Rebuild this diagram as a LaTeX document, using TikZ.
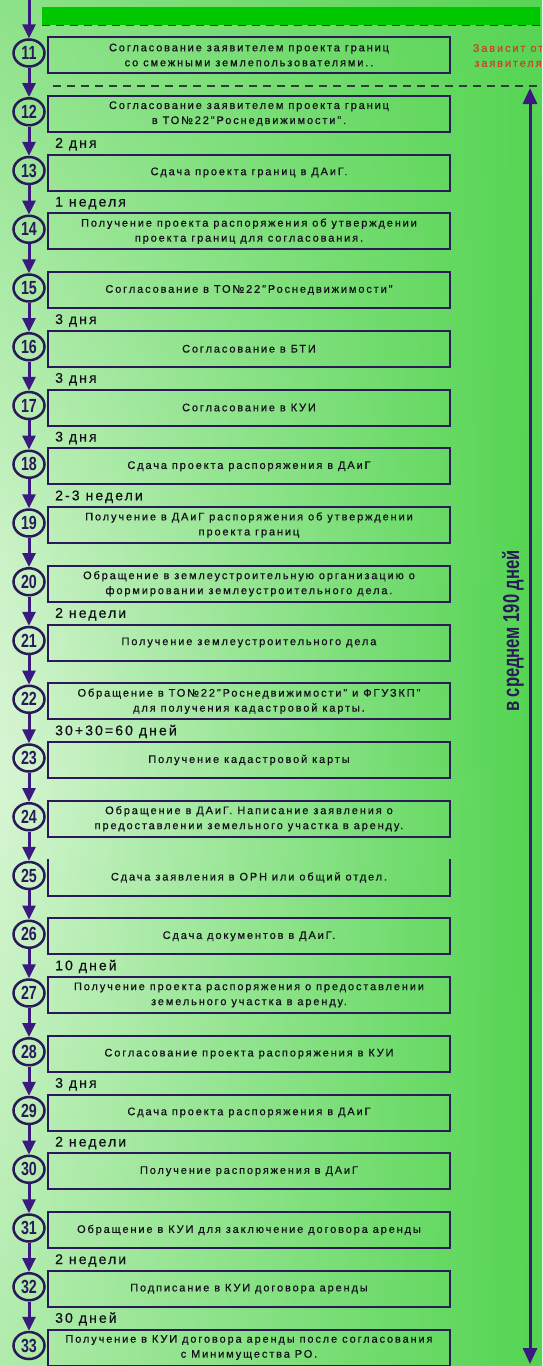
\documentclass[tikz,border=0pt]{standalone}
\usepackage{fontspec}
\setmainfont{Liberation Sans}
\newfontfamily\boxfont[LetterSpace=17,FakeBold=0.5]{Liberation Sans}
\newfontfamily\lblfont[LetterSpace=15,FakeBold=0.4]{Liberation Sans}
\usetikzlibrary{shapes.geometric,arrows.meta,fadings}
\definecolor{boxc}{HTML}{2A1A58}
\definecolor{arrc}{HTML}{3A1A7E}
\definecolor{txtc}{HTML}{101018}
\definecolor{redc}{HTML}{C8442A}
\definecolor{barc}{HTML}{00C800}
\definecolor{dashc}{HTML}{2E3E36}
\definecolor{bgL}{HTML}{E4F9E0}
\definecolor{bgM}{HTML}{ACEBA4}
\definecolor{bgR}{HTML}{50D44E}
\definecolor{bgV}{HTML}{5CD658}
\tikzfading[name=fadetop, top color=transparent!0, bottom color=transparent!100]
\tikzfading[name=fadebot, top color=transparent!100, bottom color=transparent!0]
\newcommand\cnum[1]{\scalebox{0.75}[1]{\fontsize{19}{19}\selectfont\bfseries #1}}
\newcommand\mkbox[2]{\node[stepbox] (b#1) at (249,{55+58.75*(#1-11)}) {#2};}
\newcommand\mklbl[2]{\node[lbl] (l#1) at (55,{55+58.75*(#1-11)+34}) {#2};}
\begin{document}
\begin{tikzpicture}[x=1pt,y=-1pt,
  stepbox/.style={draw=boxc,line width=2pt,minimum width=402pt,minimum height=36pt,inner sep=0pt,align=center,text=txtc,font=\boxfont\fontsize{11}{15}\selectfont},
  nobox/.style={minimum width=402pt,minimum height=36pt,inner sep=0pt,align=center,text=txtc,font=\boxfont\fontsize{11}{15}\selectfont},
  circ/.style={ellipse,draw=boxc,line width=2.5pt,minimum width=31pt,minimum height=27pt,inner sep=0pt,text=boxc},
  arr/.style={draw=arrc,line width=3pt,-{Triangle[width=13pt,length=14pt]}},
  arrtwo/.style={draw=arrc,line width=3pt,{Triangle[width=14pt,length=16pt]}-{Triangle[width=14pt,length=16pt]}},
  lbl/.style={anchor=base west,inner sep=0pt,text=txtc,font=\lblfont\fontsize{14}{14}\selectfont},
  dashl/.style={draw=dashc,line width=1.5pt,dash pattern=on 8pt off 6pt}]
\useasboundingbox (0,0) rectangle (542,1366);
\clip (0,0) rectangle (542,1366);
% background
\shade[left color=bgL, middle color=bgM, right color=bgR] (0,0) rectangle (542,1366);
\fill[bgV, fill opacity=0.85, path fading=fadetop] (0,-250) rectangle (542,770);
\fill[bgV, fill opacity=0.55, path fading=fadebot] (0,580) rectangle (542,1720);
% top bar and dashed lines
\fill[barc] (42,7) rectangle (540,25);
\draw[dashl] (42,25.5) -- (542,25.5);
\draw[dashl] (53,86) -- (542,86);
% circles
\foreach \i in {11,...,33} \node[circ] (c\i) at (29,{55+58.75*(\i-11)-2}) {\cnum{\i}};
\coordinate (top) at (29,0);
\draw[arr] (top) -- (c11);
\foreach \i [evaluate=\i as \j using int(\i+1)] in {11,...,32} \draw[arr] (c\i) -- (c\j);
% boxes
\mkbox{11}{Согласование заявителем проекта границ\\со смежными землепользователями..}
\mkbox{12}{Согласование заявителем проекта границ\\в ТО№22"Роснедвижимости".}
\mkbox{13}{Сдача проекта границ в ДАиГ.}
\mkbox{14}{Получение проекта распоряжения об утверждении\\проекта границ для согласования.}
\mkbox{15}{Согласование в ТО№22"Роснедвижимости"}
\mkbox{16}{Согласование в БТИ}
\mkbox{17}{Согласование в КУИ}
\mkbox{18}{Сдача проекта распоряжения в ДАиГ}
\mkbox{19}{Получение в ДАиГ распоряжения об утверждении\\проекта границ}
\mkbox{20}{Обращение в землеустроительную организацию о\\формировании землеустроительного дела.}
\mkbox{21}{Получение землеустроительного дела}
\mkbox{22}{Обращение в ТО№22"Роснедвижимости" и ФГУЗКП"\\для получения кадастровой карты.}
\mkbox{23}{Получение кадастровой карты}
\mkbox{24}{Обращение в ДАиГ. Написание заявления о\\предоставлении земельного участка в аренду.}
\node[nobox] (b25) at (249,{55+58.75*14}) {Сдача заявления в ОРН или общий отдел.};
\draw[boxc,line width=2pt] (b25.north west) -- (b25.south west) -- (b25.south east) -- (b25.north east);
\mkbox{26}{Сдача документов в ДАиГ.}
\mkbox{27}{Получение проекта распоряжения о предоставлении\\земельного участка в аренду.}
\mkbox{28}{Согласование проекта распоряжения в КУИ}
\mkbox{29}{Сдача проекта распоряжения в ДАиГ}
\mkbox{30}{Получение распоряжения в ДАиГ}
\mkbox{31}{Обращение в КУИ для заключение договора аренды}
\mkbox{32}{Подписание в КУИ договора аренды}
\mkbox{33}{Получение в КУИ договора аренды после согласования\\с Минимущества РО.}
% duration labels
\mklbl{12}{2 дня}
\mklbl{13}{1 неделя}
\mklbl{15}{3 дня}
\mklbl{16}{3 дня}
\mklbl{17}{3 дня}
\mklbl{18}{2-3 недели}
\mklbl{20}{2 недели}
\mklbl{22}{30+30=60 дней}
\mklbl{26}{10 дней}
\mklbl{28}{3 дня}
\mklbl{29}{2 недели}
\mklbl{31}{2 недели}
\mklbl{32}{30 дней}
% right side
\node[align=center,text=redc,font=\boxfont\fontsize{11}{15}\selectfont] (dep) at (508,55.5) {Зависит от\\заявителя};
\coordinate (rt) at (530,88);
\coordinate (rb) at (530,1364);
\draw[arrtwo] (rt) -- (rb);
\node[rotate=90,text=boxc,inner sep=0pt] (avg) at (513,631) {\scalebox{0.72}[1]{\fontsize{23}{23}\selectfont\bfseries в среднем 190 дней}};
\end{tikzpicture}
\end{document}
